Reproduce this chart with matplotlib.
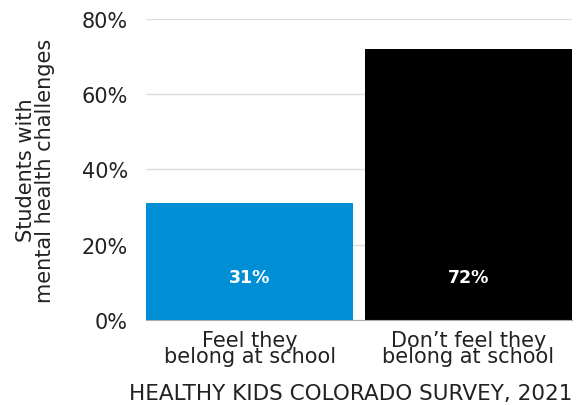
import matplotlib
matplotlib.use("Agg")
import matplotlib.pyplot as plt
from matplotlib.ticker import FuncFormatter

plt.rcParams['font.family'] = ['DejaVu Sans']

categories = ["Feel they\nbelong at school", "Don\u2019t feel they\nbelong at school"]
values = [31, 72]
bar_colors = ["#008FD5", "#000000"]
yticks = [0, 20, 40, 60, 80]

fig = plt.figure(figsize=(5.76, 4.06), dpi=100)
ax = fig.add_axes([0.2535, 0.2094, 0.7395, 0.7413])

x = range(len(categories))
bars = ax.bar(x, values, width=0.947, color=bar_colors, zorder=2)

for b, v in zip(bars, values):
    ax.text(b.get_x() + b.get_width() / 2, 11.3, "%d%%" % v, ha="center", va="center",
            color="white", fontsize=12.5, fontweight="bold", zorder=3)

ax.set_xlim(-0.4737, 1.4737)
ax.set_ylim(0, 80)
ax.set_yticks(yticks)
ax.yaxis.set_major_formatter(FuncFormatter(lambda v, p: "%d%%" % v))
ax.set_xticks(list(x))
ax.set_xticklabels(categories, linespacing=0.75)
ax.tick_params(axis="y", length=0, pad=13, labelsize=15, colors="#222222")
ax.tick_params(axis="x", length=0, pad=7, labelsize=15, colors="#222222")
ax.grid(axis="y", color="#dddddd", linewidth=1, zorder=0)
for s in ["top", "right", "left"]:
    ax.spines[s].set_visible(False)
ax.spines["bottom"].set_color("#aaaaaa")

ax.set_ylabel("Students with\nmental health challenges", fontsize=15, color="#222222",
              linespacing=0.95)
ax.yaxis.set_label_coords(-0.213, 0.5)

fig.text(0.993, 0.004, "HEALTHY KIDS COLORADO SURVEY, 2021", ha="right", va="bottom",
         fontsize=15.5, color="#222222")

fig.savefig("out.png", dpi=100)
